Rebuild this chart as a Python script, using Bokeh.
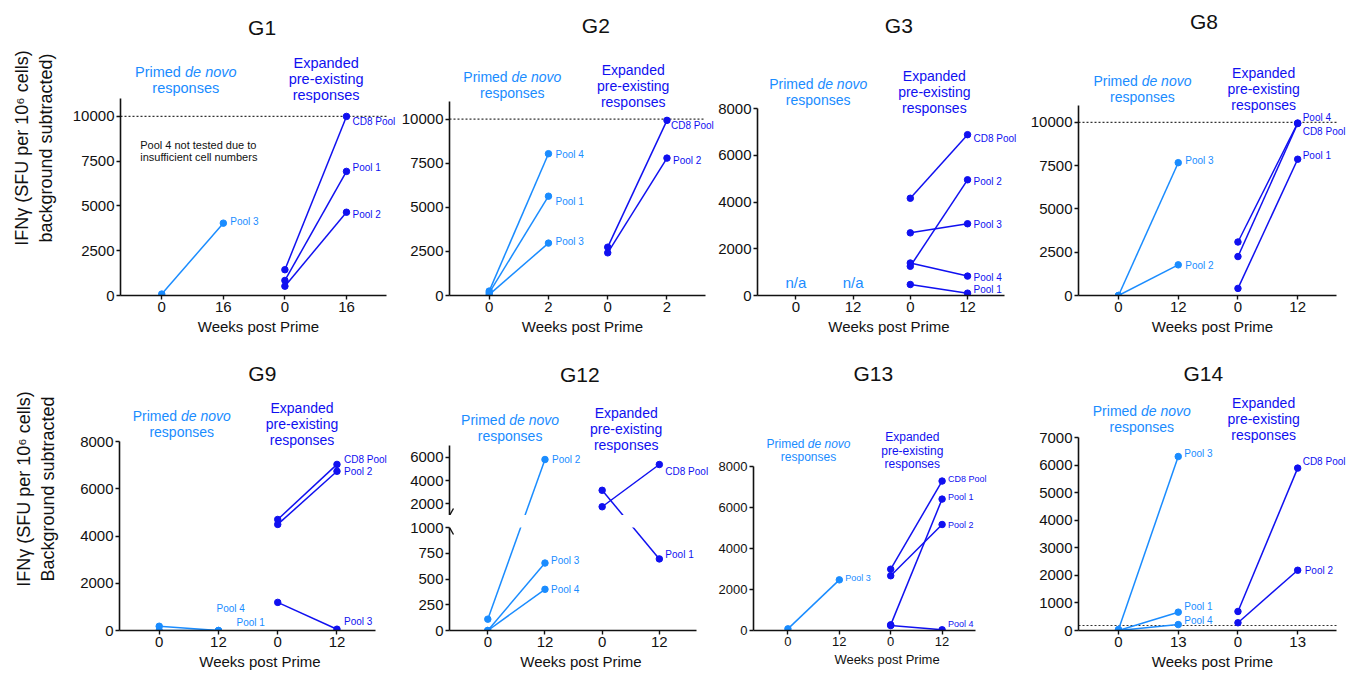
from bokeh.plotting import figure
from bokeh.models import FixedTicker, Label, Range1d, NumeralTickFormatter, ColumnDataSource
from bokeh.layouts import row, column
from bokeh.embed import file_html
from bokeh.resources import INLINE

LIGHT = "#1a8cff"
DARK = "#1010f0"
INK = "#111111"
FONT = "Liberation Sans"

# ---------------- data ----------------
g1_weeks = ["0", "16", "0", "16"]
g1_primed_pools = ["Pool 3"]
g1_primed_wk0 = [80]
g1_primed_wkN = [4040]
g1_expanded_pools = ["CD8 Pool", "Pool 1", "Pool 2"]
g1_expanded_wk0 = [1440, 840, 520]
g1_expanded_wkN = [10000, 6930, 4650]
g1_threshold = 10000

g2_weeks = ["0", "2", "0", "2"]
g2_primed_pools = ["Pool 4", "Pool 1", "Pool 3"]
g2_primed_wk0 = [250, 150, 50]
g2_primed_wkN = [8040, 5630, 2970]
g2_expanded_pools = ["CD8 Pool", "Pool 2"]
g2_expanded_wk0 = [2740, 2420]
g2_expanded_wkN = [9930, 7790]
g2_threshold = 10000

g3_weeks = ["0", "12", "0", "12"]
g3_primed_pools = []
g3_primed_wk0 = []
g3_primed_wkN = []
g3_expanded_pools = ["CD8 Pool", "Pool 2", "Pool 3", "Pool 4", "Pool 1"]
g3_expanded_wk0 = [4160, 1250, 2680, 1390, 470]
g3_expanded_wkN = [6880, 4950, 3070, 830, 100]

g8_weeks = ["0", "12", "0", "12"]
g8_primed_pools = ["Pool 3", "Pool 2"]
g8_primed_wk0 = [0, 0]
g8_primed_wkN = [7670, 1770]
g8_expanded_pools = ["Pool 4", "CD8 Pool", "Pool 1"]
g8_expanded_wk0 = [3090, 2250, 410]
g8_expanded_wkN = [9960, 9930, 7870]
g8_threshold = 10000

g9_weeks = ["0", "12", "0", "12"]
g9_primed_pools = ["Pool 4", "Pool 1"]
g9_primed_wk0 = [180, 0]
g9_primed_wkN = [0, 0]
g9_expanded_pools = ["CD8 Pool", "Pool 2", "Pool 3"]
g9_expanded_wk0 = [4700, 4490, 1190]
g9_expanded_wkN = [7030, 6740, 55]

g12_weeks = ["0", "12", "0", "12"]
g12_primed_pools = ["Pool 2", "Pool 3", "Pool 4"]
g12_primed_wk0 = [110, 0, 0]
g12_primed_wkN = [5800, 655, 400]
g12_expanded_pools = ["CD8 Pool", "Pool 1"]
g12_expanded_wk0 = [1750, 3160]
g12_expanded_wkN = [5370, 695]

g13_weeks = ["0", "12", "0", "12"]
g13_primed_pools = ["Pool 3"]
g13_primed_wk0 = [80]
g13_primed_wkN = [2470]
g13_expanded_pools = ["CD8 Pool", "Pool 1", "Pool 2", "Pool 4"]
g13_expanded_wk0 = [2990, 276, 2670, 240]
g13_expanded_wkN = [7290, 6410, 5170, 35]

g14_weeks = ["0", "13", "0", "13"]
g14_primed_pools = ["Pool 3", "Pool 1", "Pool 4"]
g14_primed_wk0 = [40, 0, 0]
g14_primed_wkN = [6310, 665, 215]
g14_expanded_pools = ["CD8 Pool", "Pool 2"]
g14_expanded_wk0 = [690, 280]
g14_expanded_wkN = [5890, 2185]
g14_threshold = 180

Y_LABEL_1 = "IFN\u03b3 (SFU per 10\u2076 cells)\nbackground subtracted)"
Y_LABEL_2 = "IFN\u03b3 (SFU per 10\u2076 cells)\nBackground subtracted"
X_LABEL = "Weeks post Prime"
PRIMED_WORDS = ("Primed", "de novo", "responses")
EXPANDED_LINES = ["Expanded", "pre-existing", "responses"]

XR = (0.33, 4.65)
MARK = 6.5


def add_label(p, x, y, text, size, color, dx=0, dy=0, align="left", style="normal"):
    p.add_layout(Label(x=x, y=y, text=text, x_offset=dx, y_offset=dy,
                       text_align=align, text_baseline="middle",
                       text_font=FONT, text_font_size=f"{size}px",
                       text_color=color, text_font_style=style))


def make_fig(w, h, left, right, top, bottom, yr, yticks, xticks_labels, fs, show_x=True,
             ylabel=None, ylabel_standoff=14, extend_top=True):
    # the frame is stretched to the top/right edge of the canvas so that
    # annotations placed above / right of the axes are not clipped;
    # axis bounds keep the axis lines at the reference extents.
    h_ax = h - top - bottom
    w_ax = w - left - right
    y_end = yr[1] + top * (yr[1] - yr[0]) / h_ax if extend_top else yr[1]
    x_end = XR[1] + right * (XR[1] - XR[0]) / w_ax
    p = figure(width=w, height=h, x_range=Range1d(XR[0], x_end), y_range=Range1d(yr[0], y_end),
               output_backend="svg", toolbar_location=None,
               min_border_left=left, min_border_right=0,
               min_border_top=0 if extend_top else top, min_border_bottom=bottom,
               x_axis_location="below" if show_x else None)
    p.outline_line_color = None
    p.grid.visible = False
    p.background_fill_color = "white"
    p.border_fill_color = "white"
    axes = [p.yaxis[0]] + ([p.xaxis[0]] if show_x else [])
    for ax in axes:
        ax.axis_line_width = 1.6
        ax.axis_line_color = INK
        ax.major_tick_line_color = INK
        ax.major_tick_line_width = 1.4
        ax.major_tick_out = 4
        ax.major_tick_in = 0
        ax.minor_tick_out = 0
        ax.minor_tick_in = 0
        ax.major_label_text_font = FONT
        ax.major_label_text_font_size = f"{fs}px"
        ax.major_label_text_color = INK
        ax.major_label_standoff = 2
        ax.axis_label_text_font = FONT
        ax.axis_label_text_font_style = "normal"
        ax.axis_label_text_color = INK
    ya = p.yaxis[0]
    ya.bounds = (yr[0], yr[1])
    ya.ticker = FixedTicker(ticks=yticks)
    ya.formatter = NumeralTickFormatter(format="0")
    if ylabel:
        ya.axis_label = ylabel
        ya.axis_label_text_font_size = "18px"
        ya.axis_label_standoff = ylabel_standoff
    if show_x:
        xa = p.xaxis[0]
        xa.bounds = XR
        xa.ticker = FixedTicker(ticks=[1, 2, 3, 4])
        xa.major_label_overrides = {i + 1: t for i, t in enumerate(xticks_labels)}
        xa.axis_label = X_LABEL
        xa.axis_label_text_font_size = f"{fs}px"
        xa.axis_label_standoff = 3
    return p


def draw_threshold(p, v):
    p.line(x=list(XR), y=[v, v], line_color="#333333", line_width=1.1, line_dash="2 2")


def draw_group(p, x0, pools, v0, vN, color, offsets, lfs, line_y0=None, line_yN=None, keep=None):
    n = len(pools)
    if n == 0:
        return
    ly0 = line_y0 if line_y0 is not None else v0
    lyN = line_yN if line_yN is not None else vN
    src = ColumnDataSource(dict(xs=[[x0, x0 + 1] for _ in range(n)],
                                ys=[[a, b] for a, b in zip(ly0, lyN)]))
    p.multi_line(xs="xs", ys="ys", source=src, line_color=color, line_width=1.5)
    px, py = [], []
    for i in range(n):
        for xx, vv in ((x0, v0[i]), (x0 + 1, vN[i])):
            if keep is None or keep(vv):
                px.append(xx)
                py.append(vv)
    p.scatter(x=px, y=py, size=MARK, fill_color=color, line_color=color)
    for i, name in enumerate(pools):
        if keep is not None and not keep(vN[i]):
            continue
        dx, dy = offsets.get(name, (7, 0))
        add_label(p, x0 + 1, vN[i], name, lfs, color, dx=dx, dy=-dy)


def group_labels(p, top, cxp, cxe, p1, e1, fs, sp):
    add_label(p, cxp, top, PRIMED_WORDS[0], fs, LIGHT, dx=-0.334 * fs, dy=p1, align="right")
    add_label(p, cxp, top, PRIMED_WORDS[1], fs, LIGHT, dx=-0.055 * fs, dy=p1, align="left", style="italic")
    add_label(p, cxp, top, PRIMED_WORDS[2], fs, LIGHT, dy=p1 - sp, align="center")
    for k, t in enumerate(EXPANDED_LINES):
        add_label(p, cxe, top, t, fs, DARK, dy=e1 - k * sp, align="center")


def title(p, top, tx, ty, text):
    add_label(p, tx, top, text, 21, INK, dy=ty, align="center")


# ---------------- panels ----------------
T10 = [0, 2500, 5000, 7500, 10000]
T8 = [0, 2000, 4000, 6000, 8000]


def standard_panel(name, w, h, left, right, top, bottom, yr, yticks, weeks,
                   pp, p0, pN, ep, e0, eN, poff, eoff, tpos, gpos, fs=15, gfs=14, lfs=10, gsp=16,
                   ylabel=None, ylabel_standoff=14, threshold=None):
    p = make_fig(w, h, left, right, top, bottom, yr, yticks, weeks, fs, ylabel=ylabel,
                 ylabel_standoff=ylabel_standoff)
    if threshold is not None:
        draw_threshold(p, threshold)
    draw_group(p, 1, pp, p0, pN, LIGHT, poff, lfs)
    draw_group(p, 3, ep, e0, eN, DARK, eoff, lfs)
    title(p, yr[1], tpos[0], tpos[1], name)
    group_labels(p, yr[1], gpos[0], gpos[1], gpos[2], gpos[3], gfs, gsp)
    return p


f1 = standard_panel("G1", 396, 347, 120, 10, 98, 52, (0, 11000), T10, g1_weeks,
                    g1_primed_pools, g1_primed_wk0, g1_primed_wkN,
                    g1_expanded_pools, g1_expanded_wk0, g1_expanded_wkN,
                    {"Pool 3": (7, -2)},
                    {"CD8 Pool": (6, 5), "Pool 1": (6, -4), "Pool 2": (6, 2)},
                    (2.63, 71), (1.39, 3.67, 27, 35.5), gfs=14.5,
                    ylabel=Y_LABEL_1, ylabel_standoff=14, threshold=g1_threshold)
add_label(f1, 0.65, 11000, "Pool 4 not tested due to", 11, INK, dy=-46)
add_label(f1, 0.65, 11000, "insufficient cell numbers", 11, INK, dy=-58)

f2 = standard_panel("G2", 319, 347, 53, 10, 101, 52, (0, 11000), T10, g2_weeks,
                    g2_primed_pools, g2_primed_wk0, g2_primed_wkN,
                    g2_expanded_pools, g2_expanded_wk0, g2_expanded_wkN,
                    {"Pool 4": (7, 1), "Pool 1": (7, 5), "Pool 3": (7, -2)},
                    {"CD8 Pool": (4, 5), "Pool 2": (6, 2)},
                    (2.80, 75.7), (1.39, 3.43, 24.3, 31.4), threshold=g2_threshold)

f3 = standard_panel("G3", 305, 347, 38, 16, 108, 52, (0, 8000), T8, g3_weeks,
                    g3_primed_pools, g3_primed_wk0, g3_primed_wkN,
                    g3_expanded_pools, g3_expanded_wk0, g3_expanded_wkN,
                    {},
                    {"CD8 Pool": (6, 4), "Pool 2": (6, 2), "Pool 3": (6, 1), "Pool 4": (6, 1),
                     "Pool 1": (6, -4)},
                    (2.80, 83.3), (1.39, 3.42, 25, 32.3))
add_label(f3, 1, 570, "n/a", 15, LIGHT, align="center")
add_label(f3, 2, 570, "n/a", 15, LIGHT, align="center")

f8 = standard_panel("G8", 326, 347, 58, 10, 107, 45, (0, 11000), T10, g8_weeks,
                    g8_primed_pools, g8_primed_wk0, g8_primed_wkN,
                    g8_expanded_pools, g8_expanded_wk0, g8_expanded_wkN,
                    {"Pool 3": (7, -2), "Pool 2": (7, 1)},
                    {"Pool 4": (5, -6), "CD8 Pool": (5, 8), "Pool 1": (5, -4)},
                    (2.43, 83.4), (1.40, 3.43, 24.4, 32.4), threshold=g8_threshold)

f9 = standard_panel("G9", 400, 326, 119, 25, 94, 43, (0, 8000), T8, g9_weeks,
                    g9_primed_pools, g9_primed_wk0, g9_primed_wkN,
                    g9_expanded_pools, g9_expanded_wk0, g9_expanded_wkN,
                    {"Pool 4": (-2, -22), "Pool 1": (18, -8)},
                    {"CD8 Pool": (7, -5), "Pool 2": (7, 0), "Pool 3": (7, -8)},
                    (2.74, 68), (1.38, 3.41, 26, 33.3), ylabel=Y_LABEL_2, ylabel_standoff=19)

f13 = standard_panel("G13", 308, 326, 41, 45, 119, 43, (0, 8000), T8, g13_weeks,
                     g13_primed_pools, g13_primed_wk0, g13_primed_wkN,
                     g13_expanded_pools, g13_expanded_wk0, g13_expanded_wkN,
                     {"Pool 3": (6, -2)},
                     {"CD8 Pool": (6, -2), "Pool 1": (6, -2), "Pool 2": (6, 0), "Pool 4": (6, -6)},
                     (2.66, 93), (1.40, 3.42, 22.7, 29.3), fs=13, gfs=12, lfs=9, gsp=13.4)

f14 = standard_panel("G14", 326, 326, 58, 10, 90, 43, (0, 7000), list(range(0, 7001, 1000)),
                     g14_weeks,
                     g14_primed_pools, g14_primed_wk0, g14_primed_wkN,
                     g14_expanded_pools, g14_expanded_wk0, g14_expanded_wkN,
                     {"Pool 3": (6, -3), "Pool 1": (6, -6), "Pool 4": (6, -4)},
                     {"CD8 Pool": (5, -7), "Pool 2": (7, 0)},
                     (2.42, 63.7), (1.39, 3.43, 26.7, 34.4), threshold=g14_threshold)

# ---- G12: broken y axis (two stacked figures) ----
UP_R = (1000, 7000)
LO_R = (0, 1000)
G12_W, G12_L, G12_R = 312, 49, 16
UP_TOP, UP_H = 98, 70.0       # upper part: border above, frame px of the axis part
LO_TOP, LO_H, LO_BOT = 12, 103.0, 43
GAP = float(LO_TOP)
up_ppu = UP_H / (UP_R[1] - UP_R[0])
lo_ppu = LO_H / (LO_R[1] - LO_R[0])
x_unit_per_px = (XR[1] - XR[0]) / (G12_W - G12_L - G12_R)


def to_upper(v):
    if v >= UP_R[0]:
        return v
    return UP_R[0] - ((LO_R[1] - v) * lo_ppu + GAP) / up_ppu


def to_lower(v):
    if v <= LO_R[1]:
        return v
    return LO_R[1] + ((v - UP_R[0]) * up_ppu + GAP) / lo_ppu


f12u = make_fig(G12_W, int(UP_TOP + UP_H), G12_L, G12_R, UP_TOP, 0, UP_R, [2000, 4000, 6000],
                g12_weeks, 15, show_x=False)
f12l = make_fig(G12_W, int(LO_TOP + LO_H + LO_BOT), G12_L, G12_R, LO_TOP, LO_BOT, LO_R,
                [0, 250, 500, 750, 1000], g12_weeks, 15, extend_top=False)
g12_poff = {"Pool 2": (7, 0), "Pool 3": (6, -3), "Pool 4": (6, 0)}
g12_eoff = {"CD8 Pool": (6, 7), "Pool 1": (6, -4)}
for fig, conv, keep in ((f12u, to_upper, lambda v: v >= UP_R[0]),
                        (f12l, to_lower, lambda v: v <= LO_R[1])):
    draw_group(fig, 1, g12_primed_pools, g12_primed_wk0, g12_primed_wkN, LIGHT, g12_poff, 10,
               [conv(v) for v in g12_primed_wk0], [conv(v) for v in g12_primed_wkN], keep)
    draw_group(fig, 3, g12_expanded_pools, g12_expanded_wk0, g12_expanded_wkN, DARK, g12_eoff, 10,
               [conv(v) for v in g12_expanded_wk0], [conv(v) for v in g12_expanded_wkN], keep)
# axis break marks
f12u.line(x=[XR[0], XR[0] + 4 * x_unit_per_px], y=[UP_R[0], UP_R[0] + 7 / up_ppu],
          line_color=INK, line_width=1.4)
f12l.line(x=[XR[0], XR[0] + 4 * x_unit_per_px], y=[LO_R[1], LO_R[1] - 7 / lo_ppu],
          line_color=INK, line_width=1.4)
title(f12u, UP_R[1], 2.61, 71.3, "G12")
group_labels(f12u, UP_R[1], 1.39, 3.42, 25.3, 32.6, 14, 16)
f12 = column(f12u, f12l)

layout = column(row(f1, f2, f3, f8), row(f9, f12, f13, f14))

with open("out.html", "w") as fh:
    fh.write(file_html(layout, INLINE))
